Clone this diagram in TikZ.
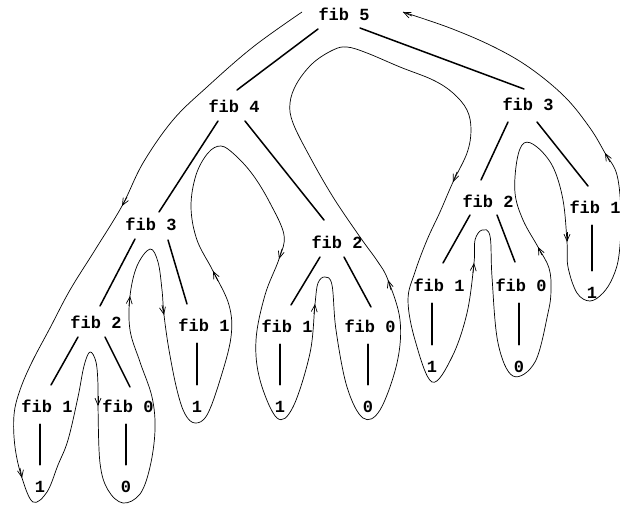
\documentclass[tikz,border=0pt]{standalone}
\usepackage{fontspec}
\setmonofont{Liberation Mono}
\usetikzlibrary{arrows.meta}
\begin{document}
\begin{tikzpicture}[x=1pt,y=-1pt,
  lbl/.style={font=\fontsize{17}{17}\selectfont\ttfamily\bfseries, inner sep=0pt, text height=10pt, text depth=0pt, minimum height=34pt},
  leaf/.style={lbl, minimum height=44pt},
  edge/.style={line width=1.5pt, line cap=round},
  trace/.style={line width=0.7pt},
  arr/.style={line width=0.7pt, -{Straight Barb[length=7pt,width=6pt]}}]
\useasboundingbox (0,0) rectangle (620,507);
% tree nodes
\node[lbl] (f5) at (344,15) {fib 5};
\node[lbl] (f4) at (234,107) {fib 4};
\node[lbl] (f3r) at (528,105) {fib 3};
\node[lbl] (f3l) at (151,225) {fib 3};
\node[lbl] (f2m) at (337,243) {fib 2};
\node[lbl] (f2r) at (488,202) {fib 2};
\node[lbl] (f1r) at (595,208) {fib 1};
\node[lbl] (f2l) at (96,323) {fib 2};
\node[lbl] (f1c) at (204,326) {fib 1};
\node[lbl] (f1m) at (287,327) {fib 1};
\node[lbl] (f0m) at (370,327) {fib 0};
\node[lbl] (f1rl) at (439,286) {fib 1};
\node[lbl] (f0r) at (521,286) {fib 0};
\node[lbl] (f1ll) at (47,407) {fib 1};
\node[lbl] (f0l) at (128,407) {fib 0};
% leaves
\node[leaf] (v1ll) at (40,487) {1};
\node[leaf] (v0l) at (126,487) {0};
\node[leaf] (v1c) at (197,407) {1};
\node[leaf] (v1m) at (280,407) {1};
\node[leaf] (v0m) at (368,407) {0};
\node[leaf] (v1rl) at (432,367) {1};
\node[leaf] (v0r) at (519,367) {0};
\node[leaf] (v1r) at (592,293) {1};
% tree edges
\draw[edge] ([shift={(-26,14)}]f5.center) -- ([shift={(3,-17)}]f4.center);
\draw[edge] ([shift={(16,13)}]f5.center) -- ([shift={(-4,-16)}]f3r.center);
\draw[edge] ([shift={(-16,14)}]f4.center) -- ([shift={(8,-13)}]f3l.center);
\draw[edge] ([shift={(11,14)}]f4.center) -- ([shift={(-13,-23)}]f2m.center);
\draw[edge] ([shift={(-20,17)}]f3r.center) -- ([shift={(-7,-22)}]f2r.center);
\draw[edge] ([shift={(9,17)}]f3r.center) -- ([shift={(-7,-22)}]f1r.center);
\draw[edge] ([shift={(-16,14)}]f3l.center) -- ([shift={(4,-17)}]f2l.center);
\draw[edge] ([shift={(17,15)}]f3l.center) -- ([shift={(-17,-22)}]f1c.center);
\draw[edge] ([shift={(-18,14)}]f2l.center) -- ([shift={(4,-22)}]f1ll.center);
\draw[edge] ([shift={(9,14)}]f2l.center) -- ([shift={(2,-20)}]f0l.center);
\draw[edge] ([shift={(-17,14)}]f2m.center) -- ([shift={(4,-22)}]f1m.center);
\draw[edge] ([shift={(7,14)}]f2m.center) -- ([shift={(1,-20)}]f0m.center);
\draw[edge] ([shift={(-18,13)}]f2r.center) -- ([shift={(4,-23)}]f1rl.center);
\draw[edge] ([shift={(9,13)}]f2r.center) -- ([shift={(-6,-24)}]f0r.center);
% leaf edges
\draw[edge] (v1ll.center |- f1ll.south) -- (v1ll.north);
\draw[edge] (v0l.center |- f0l.south) -- (v0l.north);
\draw[edge] (v1c.center |- f1c.south) -- (v1c.north);
\draw[edge] (v1m.center |- f1m.south) -- (v1m.north);
\draw[edge] (v0m.center |- f0m.south) -- (v0m.north);
\draw[edge] (v1rl.center |- f1rl.south) -- (v1rl.north);
\draw[edge] (v0r.center |- f0r.south) -- (v0r.north);
\draw[edge] (v1r.center |- f1r.south) -- (v1r.north);
% tracing curve of the process
\draw[trace] plot[smooth, tension=0.6] coordinates {
(302,12) (253,47) (207,87) (173,120) (143,163) (122,206) (95,250) (70,290)
(50,328) (32,362) (20,390) (14,415) (15,447) (22,478) (33,502) (47,492)
(58,465) (68,440) (78,397) (84,366) (90,352) (96,362) (98,385) (98,406)
(100,463) (108,490) (123,503) (140,494) (150,467) (155,430) (152,397)
(140,362) (130,330) (130,296) (137,266) (150,249) (158,262) (162,290)
(164,315) (169,350) (177,390) (185,414) (195,423) (207,415) (220,380)
(231,337) (229,305) (213,271) (197,240) (191,207) (196,175) (208,153)
(221,146) (235,155) (253,175) (270,203) (284,235) (279,259) (265,295)
(256,340) (260,380) (277,418) (293,407) (310,353) (315,304) (318,283)
(325,277) (332,285) (336,330) (347,387) (363,418) (380,410) (397,363)
(400,320) (388,280) (378,262) (360,237) (333,197) (310,157) (293,123)
(290,103) (297,83) (313,63) (333,50) (347,47) (367,53) (400,67) (433,80)
(453,93) (467,110) (471,130) (467,153) (453,182) (440,212) (427,240)
(415,272) (408,300) (415,340) (432,382) (452,357) (467,313) (474,263)
(475,240) (482,230) (490,236) (492,277) (498,343) (513,376) (535,362)
(548,313) (551,290) (549,268) (538,247) (523,220) (515,193) (517,160)
(524,143) (537,147) (553,167) (563,200) (567,242) (568,267) (577,293)
(590,301) (603,293) (613,277) (619,255) (621,215) (617,175) (605,153)
(590,128) (565,97) (530,68) (494,47) (450,28) (403,12)};
% arrowheads along the curve
\draw[arr] (127,197) -- (122,206);
\draw[arr] (20,468) -- (22,478);
\draw[arr] (98,396) -- (98,406);
\draw[arr] (129,306) -- (130,296);
\draw[arr] (162,305) -- (164,315);
\draw[arr] (218,281) -- (213,271);
\draw[arr] (282,249) -- (279,259);
\draw[arr] (314,314) -- (315,304);
\draw[arr] (391,290) -- (388,280);
\draw[arr] (457,172) -- (453,182);
\draw[arr] (473,273) -- (474,263);
\draw[arr] (542,255) -- (538,247);
\draw[arr] (567,232) -- (567,242);
\draw[arr] (610,162) -- (605,153);
\draw[arr] (412,16) -- (403,12);
\end{tikzpicture}
\end{document}
